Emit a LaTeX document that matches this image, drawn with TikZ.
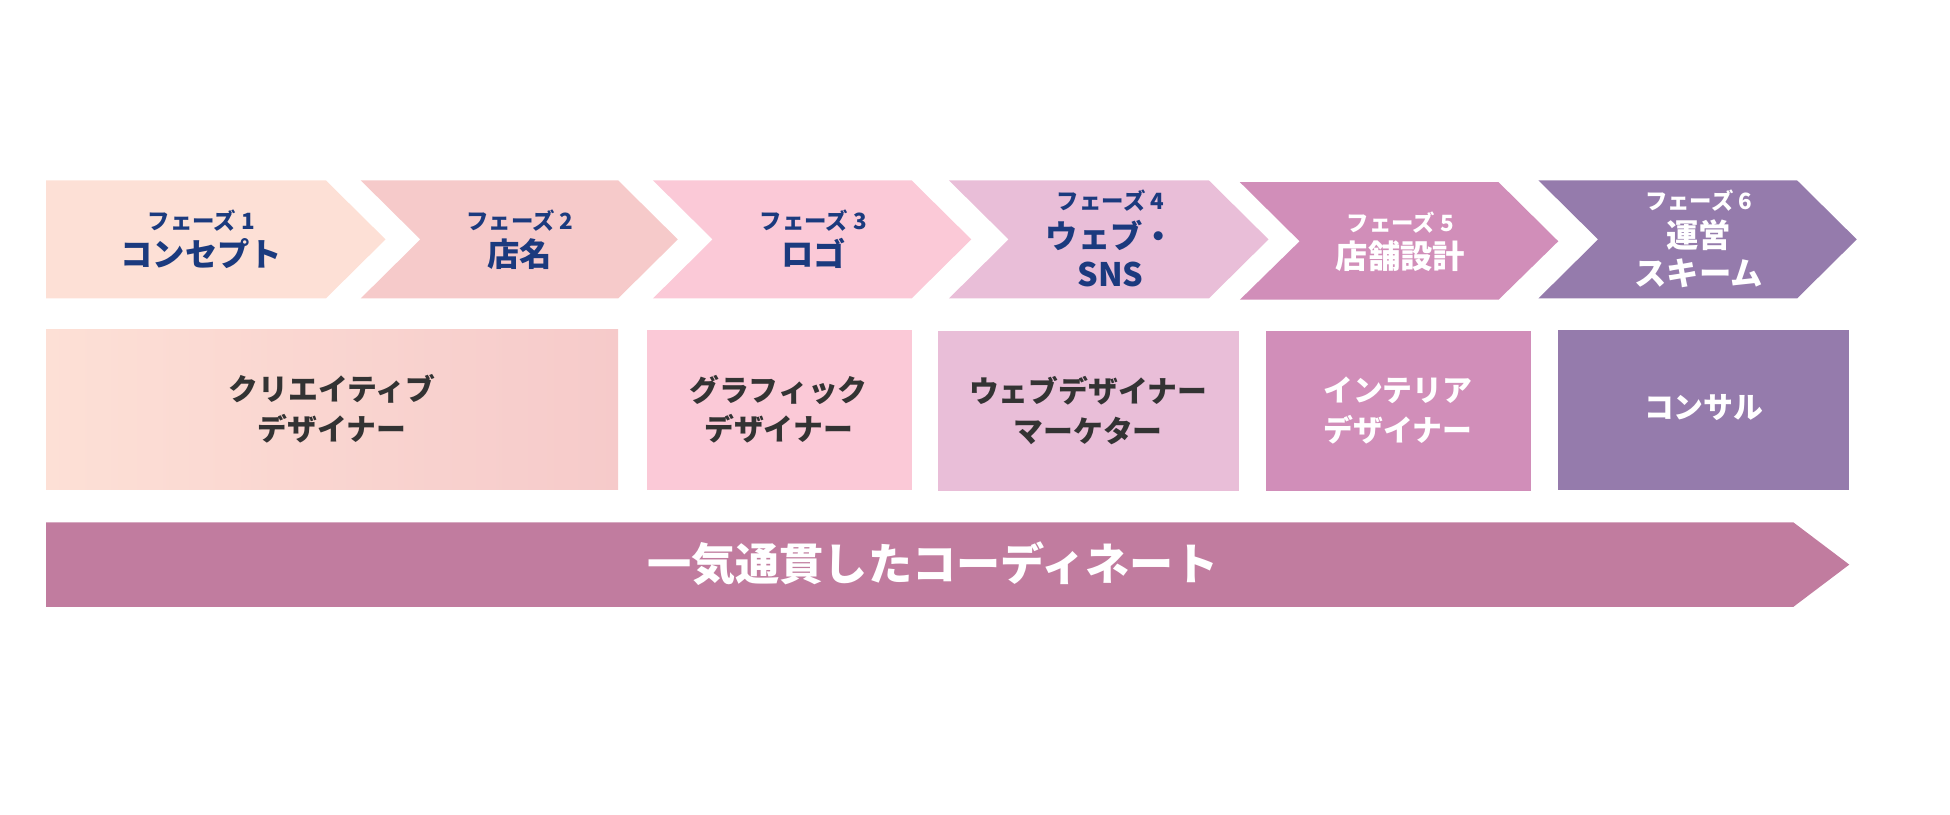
\documentclass[tikz,border=0pt]{standalone}
\usepackage{fontspec}
\newfontfamily\jp{Noto Sans CJK JP}
\usepackage{tikz}
\usetikzlibrary{positioning}
\definecolor{peach}{HTML}{FDE0D6}
\definecolor{blush}{HTML}{F6CACA}
\definecolor{pinklt}{HTML}{FBC9D7}
\definecolor{mauvelt}{HTML}{E9BED8}
\definecolor{mauve}{HTML}{D18EB9}
\definecolor{violet}{HTML}{957BAC}
\definecolor{rose}{HTML}{C17C9F}
\definecolor{navy}{HTML}{1B3A7E}
\definecolor{ink}{HTML}{333333}
\tikzset{
    phase/.style={font={\jp\bfseries\fontsize{18}{20}\selectfont}, text=navy},
    title/.style={font={\jp\bfseries\fontsize{26}{30}\selectfont}, text=navy, align=center},
    role/.style={font={\jp\bfseries\fontsize{24}{32}\selectfont}, text=ink, align=center},
    banner/.style={font={\jp\bfseries\fontsize{35.5}{40}\selectfont}, text=white}
}

\begin{document}
\begin{tikzpicture}[x=1pt, y=-1pt]
    \useasboundingbox (0,0) rectangle (1568,655);

    % Phase chevrons
    \fill[peach] (37,145) -- (262,145) -- (310,192.5) -- (262,240) -- (37,240) -- cycle;
    \fill[blush] (290,145) -- (497,145) -- (545,192.5) -- (497,240) -- (290,240) -- (338,192.5) -- cycle;
    \fill[pinklt] (525,145) -- (733,145) -- (781,192.5) -- (733,240) -- (525,240) -- (573,192.5) -- cycle;
    \fill[mauvelt] (763,145) -- (972,145) -- (1020,192.5) -- (972,240) -- (763,240) -- (811,192.5) -- cycle;
    \fill[mauve] (997,146.5) -- (1205,146.5) -- (1253,194) -- (1205,241) -- (997,241) -- (1045,194) -- cycle;
    \fill[violet] (1237,145) -- (1445,145) -- (1493,192.5) -- (1445,240) -- (1237,240) -- (1285,192.5) -- cycle;

    % Phase labels
    \node[phase] (p1) at (162,177) {フェーズ 1};
    \node[title] (t1) at (162,204) {コンセプト};
    \node[phase] (p2) at (418,177) {フェーズ 2};
    \node[title] (t2) at (418,204) {店名};
    \node[phase] (p3) at (654,177) {フェーズ 3};
    \node[title] (t3) at (654,204) {ロゴ};
    \node[phase] (p4) at (893,161) {フェーズ 4};
    \node[title] (t4) at (893,204) {ウェブ・\\SNS};
    \node[phase, text=white] (p5) at (1126,179) {フェーズ 5};
    \node[title, text=white] (t5) at (1126,206) {店舗設計};
    \node[phase, text=white] (p6) at (1366,161) {フェーズ 6};
    \node[title, text=white] (t6) at (1366,204) {運営\\スキーム};

    % Role boxes
    \shade[left color=peach, right color=blush] (37,265) rectangle (497,394);
    \fill[pinklt] (520,265) rectangle (733,394);
    \fill[mauvelt] (754,266) rectangle (996,395);
    \fill[mauve] (1018,266) rectangle (1231,395);
    \fill[violet] (1253,265) rectangle (1487,394);

    \node[role] (r1) at (267,329) {クリエイティブ\\デザイナー};
    \node[role] (r2) at (626,329) {グラフィック\\デザイナー};
    \node[role] (r3) at (875,330) {ウェブデザイナー\\マーケター};
    \node[role, text=white] (r4) at (1124,330) {インテリア\\デザイナー};
    \node[role, text=white] (r5) at (1370,328) {コンサル};

    % Bottom arrow
    \fill[rose] (37,420) -- (1442,420) -- (1487,454) -- (1442,488) -- (37,488) -- cycle;
    \node[banner] (all) at (750,453) {一気通貫したコーディネート};
\end{tikzpicture}
\end{document}
